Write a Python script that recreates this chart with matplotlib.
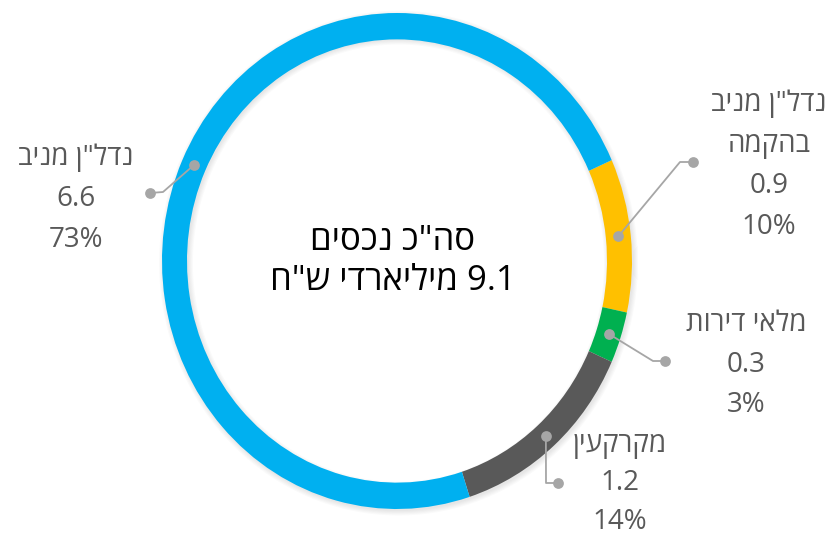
import numpy as np
import matplotlib
matplotlib.use('Agg')
import matplotlib.pyplot as plt

plt.rcParams['font.family'] = ['Open Sans', 'Liberation Sans', 'DejaVu Sans']

# Data (in clockwise order, starting at the yellow segment)
names = ['נדל"ן מניב\nבהקמה', 'מלאי דירות', 'מקרקעין', 'נדל"ן מניב']
values = [0.9, 0.3, 1.2, 6.6]
percents = [10, 3, 14, 73]
colors = ['#FFC000', '#00B050', '#595959', '#00B0F0']
total_title = 'סה"כ נכסים'
total_value = 9.1
total_unit = 'מיליארדי ש"ח'


def vis(s):
    # matplotlib has no bidi support: put Hebrew in visual order
    return s[::-1]


W, H = 836, 539
fig = plt.figure(figsize=(W / 100, H / 100), dpi=100)

# ring geometry in pixels
cx, cy = 397, 261
rx, ry = 235, 248
ring = 25

# faint shadow behind the ring
pad = 14
sh = fig.add_axes([(cx - rx - pad) / W, (H - cy - ry - pad) / H,
                   (2 * rx + 2 * pad) / W, (2 * ry + 2 * pad) / H])
sh.set_xlim(-1, 1)
sh.set_ylim(-1, 1)
sh.axis('off')
t = np.linspace(0, 2 * np.pi, 400)
sx = (rx - ring / 2) / (rx + pad)
sy = (ry - ring / 2) / (ry + pad)
for k in range(5):
    sh.plot(sx * np.cos(t) + 0.006, sy * np.sin(t) - 0.008, color='black',
            alpha=0.018, lw=ring * 0.72 + 1.6 * k)

ax = fig.add_axes([(cx - rx) / W, (H - cy - ry) / H, 2 * rx / W, 2 * ry / H])
wedges, _ = ax.pie(values, colors=colors, startangle=24, counterclock=False,
                   radius=1, wedgeprops=dict(width=ring / rx, linewidth=0))
ax.set_aspect('auto')
ax.set_xlim(-1, 1)
ax.set_ylim(-1, 1)
ax.axis('off')

# overlay in pixel coordinates for labels and leader lines
ov = fig.add_axes([0, 0, 1, 1])
ov.set_xlim(0, W)
ov.set_ylim(H, 0)
ov.axis('off')

line_col = '#A6A6A6'
text_col = '#595959'

# layout: elbow point, end dot, label centre x, first line y, line step
layout = [
    dict(elbow=(680, 162), end=(693, 162), tx=769, ty=104, step=41),
    dict(elbow=(653, 361), end=(665, 361), tx=746, ty=324, step=40.5),
    dict(elbow=(546, 483), end=(558, 483), tx=620, ty=445, step=38.5),
    dict(elbow=(163, 192), end=(150, 193), tx=76, ty=158, step=41),
]

for w, name, val, pct, lay in zip(wedges, names, values, percents, layout):
    ang = np.deg2rad((w.theta1 + w.theta2) / 2)
    px = cx + (rx - ring / 2) * np.cos(ang)
    py = cy - (ry - ring / 2) * np.sin(ang)
    xs = [px, lay['elbow'][0], lay['end'][0]]
    ys = [py, lay['elbow'][1], lay['end'][1]]
    ov.plot(xs, ys, color=line_col, lw=1.3, zorder=3)
    ov.scatter([px, lay['end'][0]], [py, lay['end'][1]], s=60, color=line_col,
               zorder=4, linewidths=0)
    lines = [vis(n) for n in name.split('\n')] + [f'{val}', f'{pct}%']
    for i, ln in enumerate(lines):
        ov.text(lay['tx'], lay['ty'] + i * lay['step'], ln, ha='center',
                va='center', fontsize=20, color=text_col)

ov.text(cx - 4, 241, vis(total_title), ha='center', va='center',
        fontsize=25, color='black')
ov.text(cx - 4, 281, vis(total_unit) + f' {total_value}', ha='center',
        va='center', fontsize=25, color='black')

fig.savefig('out.png', dpi=100)
